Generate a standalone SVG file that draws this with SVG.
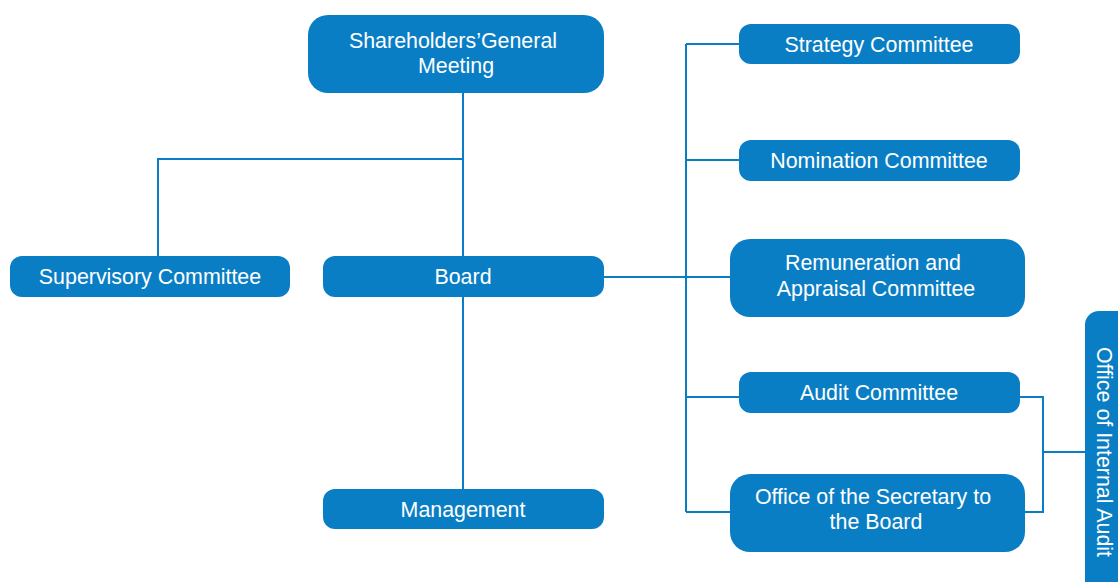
<svg xmlns="http://www.w3.org/2000/svg" width="1118" height="582" viewBox="0 0 1118 582">
  <style>
    .box { fill: #0a7ec5; }
    .lbl { fill: #ffffff; font-family: "Liberation Sans", Arial, sans-serif; font-size: 21.4px; text-anchor: middle; }
    .link { fill: none; stroke: #0a7ec5; stroke-width: 2; }
  </style>
  <rect width="1118" height="582" fill="#ffffff"/>

  <!-- connectors -->
  <g id="connectors">
    <path class="link" d="M463 93 V256"/>
    <path class="link" d="M463 159 H158 V256"/>
    <path class="link" d="M463 297 V489"/>
    <path class="link" d="M604 277 H730"/>
    <path class="link" d="M686 44 V512"/>
    <path class="link" d="M686 44 H739"/>
    <path class="link" d="M686 160 H739"/>
    <path class="link" d="M686 397 H739"/>
    <path class="link" d="M686 512 H730"/>
    <path class="link" d="M1020 397 H1043 V512 H1025"/>
    <path class="link" d="M1043 452 H1085"/>
  </g>

  <g id="shareholders">
    <rect class="box" x="308" y="15" width="296" height="78" rx="20"/>
    <text class="lbl" x="453" y="48">Shareholders’General</text>
    <text class="lbl" x="456" y="73">Meeting</text>
  </g>

  <g id="supervisory">
    <rect class="box" x="10" y="256" width="280" height="41" rx="12"/>
    <text class="lbl" x="150" y="284">Supervisory Committee</text>
  </g>

  <g id="board">
    <rect class="box" x="323" y="256" width="281" height="41" rx="12"/>
    <text class="lbl" x="463" y="284">Board</text>
  </g>

  <g id="management">
    <rect class="box" x="323" y="489" width="281" height="40" rx="12"/>
    <text class="lbl" x="463" y="517">Management</text>
  </g>

  <g id="strategy">
    <rect class="box" x="739" y="24" width="281" height="40" rx="12"/>
    <text class="lbl" x="879" y="52">Strategy Committee</text>
  </g>

  <g id="nomination">
    <rect class="box" x="739" y="140" width="281" height="41" rx="12"/>
    <text class="lbl" x="879" y="168">Nomination Committee</text>
  </g>

  <g id="remuneration">
    <rect class="box" x="730" y="239" width="295" height="78" rx="20"/>
    <text class="lbl" x="873" y="270">Remuneration and</text>
    <text class="lbl" x="876" y="296">Appraisal Committee</text>
  </g>

  <g id="audit">
    <rect class="box" x="739" y="372" width="281" height="41" rx="12"/>
    <text class="lbl" x="879" y="400">Audit Committee</text>
  </g>

  <g id="secretary">
    <rect class="box" x="730" y="474" width="295" height="78" rx="20"/>
    <text class="lbl" x="873" y="504">Office of the Secretary to</text>
    <text class="lbl" x="876" y="529">the Board</text>
  </g>

  <g id="internal-audit">
    <rect class="box" x="1085" y="311" width="60" height="300" rx="14"/>
    <text class="lbl" transform="translate(1104 452) rotate(90)" x="0" y="7">Office of Internal Audit</text>
  </g>
</svg>
